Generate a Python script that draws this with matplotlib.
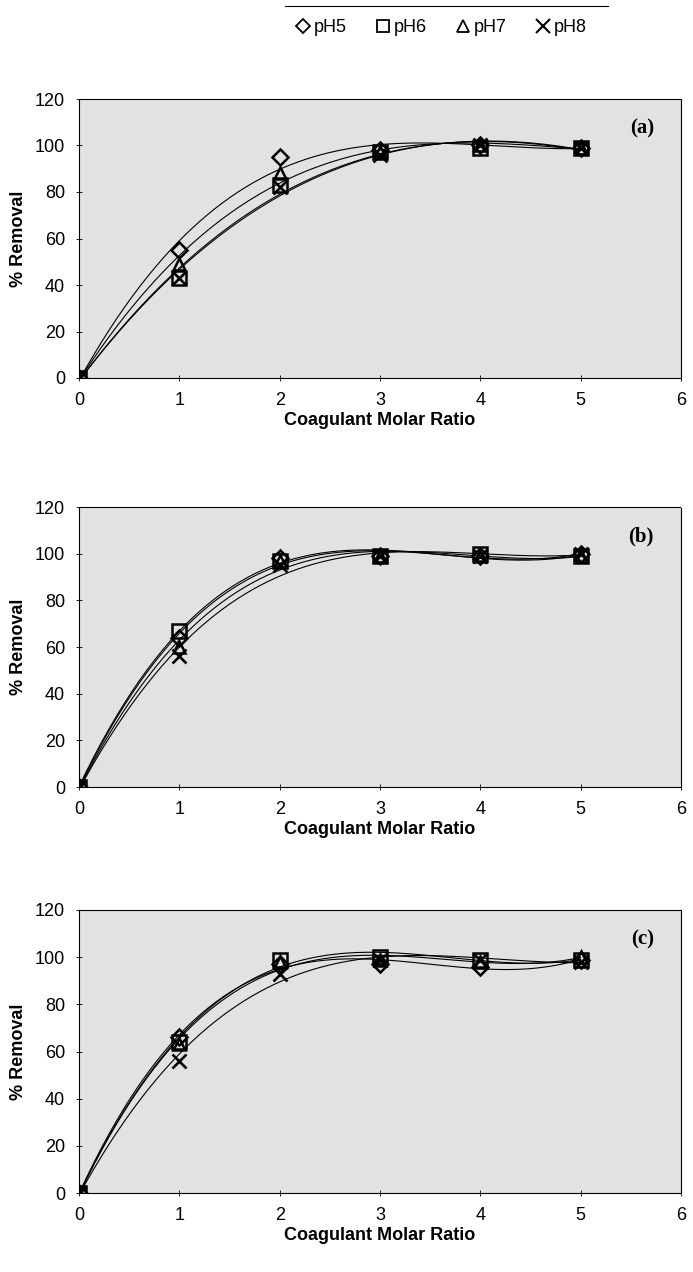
import numpy as np
import matplotlib.pyplot as plt
from matplotlib.lines import Line2D

# molar ratio values
ratio = [0, 1, 2, 3, 4, 5]
series = ["pH5", "pH6", "pH7", "pH8"]
markers = ["D", "s", "^", "x"]
msizes = [8, 10, 9, 10]

# % removal, panel (a)
a_ph5 = [0, 55, 95, 98, 100, 99]
a_ph6 = [0, 43, 83, 97, 99, 99]
a_ph7 = [0, 49, 88, 97, 100, 99]
a_ph8 = [0, 43, 82, 96, 100, 99]
# panel (b)
b_ph5 = [0, 64, 98, 99, 99, 100]
b_ph6 = [0, 67, 97, 99, 100, 99]
b_ph7 = [0, 60, 97, 99, 99, 99]
b_ph8 = [0, 56, 95, 99, 99, 100]
# panel (c)
c_ph5 = [0, 66, 97, 97, 96, 99]
c_ph6 = [0, 64, 99, 100, 99, 99]
c_ph7 = [0, 63, 98, 99, 98, 100]
c_ph8 = [0, 56, 93, 99, 99, 98]

panels = [("(a)", [a_ph5, a_ph6, a_ph7, a_ph8]),
          ("(b)", [b_ph5, b_ph6, b_ph7, b_ph8]),
          ("(c)", [c_ph5, c_ph6, c_ph7, c_ph8])]

plt.rcParams["font.family"] = ["Liberation Sans", "DejaVu Sans"]

W, H = 693, 1272
fig = plt.figure(figsize=(W / 100, H / 100), dpi=100)

# axes boxes in pixels: left, top, right, bottom
boxes = [(79, 99, 681, 378), (79, 507, 681, 787), (79, 910, 681, 1193)]

xs = np.linspace(0, 5, 200)
for (label, data), (l, t, r, b) in zip(panels, boxes):
    ax = fig.add_axes([l / W, 1 - b / H, (r - l) / W, (b - t) / H])
    ax.set_facecolor("#e2e2e2")
    for vals, m, ms in zip(data, markers, msizes):
        # excel style 3rd order polynomial trendline
        coef = np.polyfit(ratio, vals, 3)
        ax.plot(xs, np.polyval(coef, xs), color="black", lw=0.8, zorder=2)
        if m == "x":
            ax.plot(ratio, vals, ls="none", marker=m, ms=ms, mew=1.9,
                    color="black", zorder=3)
        else:
            ax.plot(ratio, vals, ls="none", marker=m, ms=ms, mew=1.8,
                    mfc="none", mec="black", zorder=3)
    ax.set_xlim(0, 6)
    ax.set_ylim(0, 120)
    ax.set_xticks(range(0, 7))
    ax.set_yticks(range(0, 121, 20))
    ax.tick_params(direction="inout", length=4, width=0.6, labelsize=13,
                   pad=8)
    for s in ax.spines.values():
        s.set_linestyle((0, (1, 1)))
        s.set_linewidth(0.8)
    ax.set_ylabel("% Removal", fontsize=13, fontweight="bold", labelpad=6)
    ax.set_xlabel("Coagulant Molar Ratio", fontsize=13, fontweight="bold",
                  labelpad=2)
    ax.text(0.955, 0.93, label, transform=ax.transAxes, ha="right", va="top",
            fontsize=15, fontweight="bold", family="Liberation Serif")

handles = []
for name, m, ms in zip(series, markers, msizes):
    if m == "x":
        h = Line2D([], [], ls="none", marker=m, ms=ms, mew=1.5, color="black")
    else:
        h = Line2D([], [], ls="none", marker=m, ms=ms - 1, mew=1.3,
                   mfc="none", mec="black")
    handles.append(h)
fig.legend(handles, series, loc="center", bbox_to_anchor=(440 / W, 1 - 28 / H),
           ncol=4, frameon=False, fontsize=13, handletextpad=0.1,
           columnspacing=1.5, handlelength=1.0)
fig.add_artist(Line2D([285 / W, 608 / W], [1 - 6 / H, 1 - 6 / H],
                      color="black", lw=0.8))

fig.savefig("out.png", dpi=100)
